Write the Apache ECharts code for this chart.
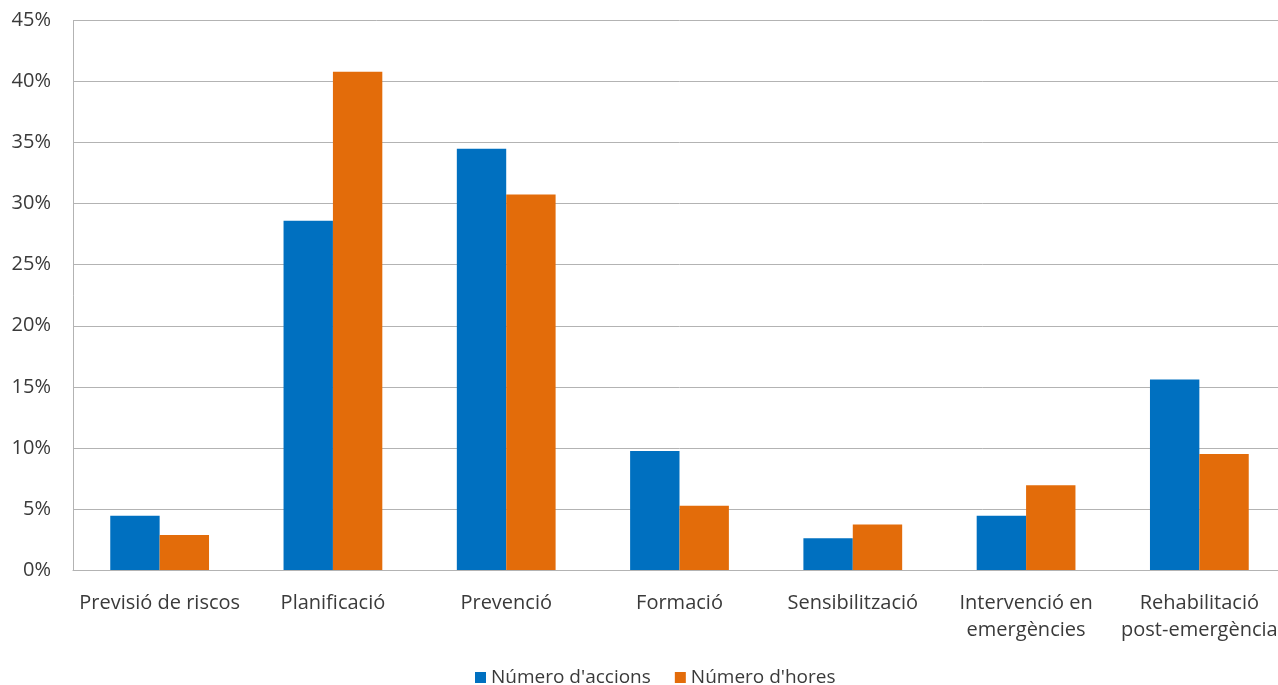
<!DOCTYPE html>
<html>
<head>
<meta charset="utf-8">
<script src="https://cdn.jsdelivr.net/npm/echarts@6/dist/echarts.min.js"></script>
<style>
  html, body { margin: 0; padding: 0; background: #fff; overflow: hidden; }
  #chart { width: 1290px; height: 685px; }
</style>
</head>
<body>
<div id="chart"></div>
<script>
// Share of actions and hours by type of activity (%)
const categories = [
  'Previsió de riscos',
  'Planificació',
  'Prevenció',
  'Formació',
  'Sensibilització',
  'Intervenció en\nemergències',
  'Rehabilitació\npost-emergència'
];
const accions = [4.45, 28.6, 34.5, 9.75, 2.6, 4.45, 15.6];
const hores = [2.87, 40.8, 30.75, 5.27, 3.72, 6.94, 9.5];
const seriesNames = ["Número d'accions", "Número d'hores"];
const yTicks = { min: 0, max: 45, interval: 5 };

const textColor = '#3a3a3a';
const gridColor = '#b3b3b3';
const font = '"Open Sans", "Noto Sans", sans-serif';

const chart = echarts.init(document.getElementById('chart'), null, { renderer: 'canvas' });
chart.setOption({
  animation: false,
  backgroundColor: '#ffffff',
  // the plot runs slightly past the right edge of the visible page
  grid: { left: 73, top: 20.5, width: 1213, height: 549.5, containLabel: false },
  legend: {
    top: 663,
    left: 470,
    icon: 'rect',
    itemWidth: 11,
    itemHeight: 11,
    itemGap: 24,
    textStyle: { color: textColor, fontFamily: font, fontSize: 19 },
    data: seriesNames
  },
  xAxis: {
    type: 'category',
    data: categories,
    axisLine: { show: true, lineStyle: { color: gridColor, width: 1 } },
    axisTick: { show: false },
    axisLabel: {
      color: textColor,
      fontFamily: font,
      fontSize: 20,
      lineHeight: 27,
      margin: 20,
      interval: 0
    }
  },
  yAxis: {
    type: 'value',
    min: yTicks.min,
    max: yTicks.max,
    interval: yTicks.interval,
    axisLine: { show: true, lineStyle: { color: gridColor, width: 1 } },
    axisTick: { show: false },
    splitLine: { show: true, lineStyle: { color: gridColor, width: 1 } },
    axisLabel: {
      formatter: '{value}%',
      color: textColor,
      fontFamily: font,
      fontSize: 20,
      margin: 22
    }
  },
  series: [
    {
      name: seriesNames[0],
      type: 'bar',
      data: accions,
      itemStyle: { color: '#0070c0' },
      barGap: '0%',
      barCategoryGap: '43%'
    },
    {
      name: seriesNames[1],
      type: 'bar',
      data: hores,
      itemStyle: { color: '#e36c0a' },
      barGap: '0%',
      barCategoryGap: '43%'
    }
  ]
});
</script>
</body>
</html>
